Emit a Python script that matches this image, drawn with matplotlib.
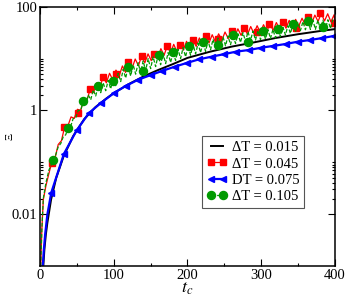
import numpy as np
import matplotlib
matplotlib.use("Agg")
import matplotlib.pyplot as plt
from matplotlib.lines import Line2D
from matplotlib.ticker import FixedLocator, FixedFormatter

plt.rcParams["font.family"] = ["Liberation Serif", "DejaVu Serif"]
plt.rcParams["mathtext.fontset"] = "stix"

# black: dT = 0.015 (smooth, no markers)
black_t = [4.5, 6, 8, 10, 15, 22, 32, 45, 60, 75, 90, 100, 120, 140, 160, 180,
           200, 230, 260, 290, 320, 350, 380, 400]
black_E = [0.001, 0.0021, 0.0041, 0.0068, 0.019, 0.05, 0.13, 0.32, 0.68, 1.15,
           1.7, 2.15, 3.2, 4.5, 6.0, 7.8, 10.3, 13.5, 17.0, 20.5, 25.0, 29.5,
           34.0, 37.0]

# blue: DT = 0.075 (line start + triangle markers)
blue_start_t = [3.8, 5, 7, 10]
blue_start_E = [0.001, 0.0019, 0.0041, 0.0099]
blue_t = [15.3, 32.4, 49.6, 66, 83, 101, 116, 133, 150, 166, 183, 200, 216, 233,
          250, 266, 283, 300, 316, 333, 350, 366, 383, 398]
blue_E = [0.026, 0.145, 0.41, 0.88, 1.41, 2.2, 2.95, 3.9, 4.8, 5.8, 7.0, 8.3,
          9.7, 10.9, 12.2, 13.6, 14.6, 16.2, 17.5, 19.1, 21.2, 22.8, 24.9, 27.2]

# red: dT = 0.045 (oscillating line: peaks and troughs, plus square markers)
red_start_t = [1, 2.5, 4.5, 8, 12]
red_start_E = [0.001, 0.005, 0.019, 0.035, 0.06]
red_peak_t = np.arange(16, 400, 8.7)
red_peak_E = [0.10, 0.22, 0.48, 0.75, 1.05, 1.7, 2.6, 3.4, 4.4, 5.2, 6.0, 7.2,
              8.5, 9.8, 11.2, 12.3, 13.5, 15.5, 17.5, 18.8, 20, 21.5, 23, 25,
              27.6, 28.8, 30, 32.5, 35, 37.5, 40, 41.5, 43, 45, 47, 49.5, 52,
              54.5, 57, 60, 63, 69, 75, 73, 70]
red_trough_E = [0.12, 0.26, 0.5, 0.7, 1.0, 1.6, 2.2, 2.8, 3.4, 3.9, 4.6, 5.4,
                6.4, 7.3, 8.3, 9.1, 10.2, 11.6, 12.8, 13.6, 14.6, 15.8, 17.2,
                18.8, 20, 21, 22.5, 24.3, 26.2, 28, 29.3, 30.4, 31.7, 33.3, 35,
                36.8, 38.5, 40.5, 42.5, 44.5, 47.5, 52, 53, 51]
red_end_t, red_end_E = 400, 50
red_mark_t = [15.8, 33, 51, 67.8, 85.8, 103, 120, 138, 155, 172.5, 190, 208,
              225, 242, 260, 277, 294, 311, 329, 347, 363, 380, 398]
red_mark_E = [0.096, 0.474, 0.88, 2.56, 4.36, 5.0, 8.5, 11.2, 12.5, 17.5, 18.3,
              22.8, 27.6, 23.5, 34.5, 39.4, 33, 46.4, 51.4, 38.4, 62.5, 74.6,
              49.2]

# green: dT = 0.105 (dashed spiky line plus circle markers)
green_start_t = [1, 2.5, 4.5, 8, 12]
green_start_E = [0.001, 0.005, 0.02, 0.04, 0.07]
green_high_t = np.arange(18, 400, 6.77)
green_high_E = [0.111, 0.2, 0.31, 0.47, 0.7, 1.0, 1.5, 2.0, 2.5, 2.97, 3.4, 3.8,
                4.2, 5.2, 6.2, 7.0, 7.6, 8.3, 9.0, 10.0, 10.8, 11.7, 12.4, 13.0,
                13.5, 15.0, 16.3, 17.6, 18.6, 19.7, 20.7, 22.0, 23.5, 25.0,
                26.2, 27.3, 28.5, 30.0, 31.5, 33.0, 34.0, 34.5, 35.0, 36.0,
                36.5, 37.5, 40.0, 43.0, 46.4, 49.0, 51.5, 54.0, 55.0, 55.0,
                55.0, 56.0, 57.0]
green_low_E = [0.14, 0.23, 0.34, 0.5, 0.72, 1.0, 1.3, 1.6, 1.9, 2.2, 2.4, 2.6,
               3.0, 3.6, 4.2, 4.6, 5.0, 5.3, 5.8, 6.4, 7.0, 7.6, 8.0, 8.4, 9.2,
               10.0, 10.8, 11.6, 12.3, 13.0, 13.8, 14.8, 15.8, 16.8, 17.6, 18.5,
               19.5, 20.5, 21.5, 22.3, 22.8, 23.2, 23.8, 24.3, 25.0, 26.5, 28.5,
               30.5, 32.5, 34.5, 36.0, 36.5, 36.5, 37.0, 37.5, 38.0]
green_mark_t = [18, 38.4, 58.7, 79, 99.3, 119.6, 140, 161, 180.7, 201.5, 221.3,
                241.6, 262, 282, 302.6, 322.8, 343, 363.6, 384]
green_mark_E = [0.111, 0.467, 1.5, 2.97, 3.75, 7.0, 5.85, 11.7, 13.3, 17.6,
                20.7, 18.3, 28.5, 21.2, 34.5, 37.2, 46.4, 53.7, 40]

labels = ["ΔT = 0.015", "ΔT = 0.045", "DT = 0.075", "ΔT = 0.105"]


def zigzag(start_t, start_E, high_t, high_E, low_E):
    t = list(start_t)
    e = list(start_E)
    for i in range(len(high_t)):
        t.append(high_t[i])
        e.append(high_E[i])
        if i < len(low_E):
            t.append((high_t[i] + high_t[i + 1]) / 2)
            e.append(low_E[i])
    return t, e


red_line_t, red_line_E = zigzag(red_start_t, red_start_E, red_peak_t,
                                red_peak_E, red_trough_E)
red_line_t.append(red_end_t)
red_line_E.append(red_end_E)
green_line_t, green_line_E = zigzag(green_start_t, green_start_E, green_high_t,
                                    green_high_E, green_low_E)

green = "#009a00"

fig = plt.figure(figsize=(3.46, 3.05), dpi=100)
ax = fig.add_axes([0.1156, 0.128, 0.8526, 0.85])

ax.plot(black_t, black_E, color="black", lw=1.4)
ax.plot(red_line_t, red_line_E, color="red", lw=0.9)
ax.plot(red_mark_t, red_mark_E, ls="none", marker="s", ms=5, color="red")
ax.plot(green_line_t, green_line_E, color=green, lw=0.9, dashes=(3, 1.5))
ax.plot(green_mark_t, green_mark_E, ls="none", marker="o", ms=5.8, color=green)
ax.plot(blue_start_t + blue_t, blue_start_E + blue_E, color="blue", lw=1.6,
        marker="<", ms=5, markevery=list(range(len(blue_start_t),
                                               len(blue_start_t) + len(blue_t))))

ax.set_yscale("log")
ax.set_xlim(0, 400)
ax.set_ylim(1e-3, 100)

ax.set_xticks([0, 100, 200, 300, 400])
ax.set_xticks([50, 150, 250, 350], minor=True)
ax.yaxis.set_major_locator(FixedLocator([0.01, 1, 100]))
ax.yaxis.set_major_formatter(FixedFormatter(["0.01", "1", "100"]))
ax.yaxis.set_minor_locator(FixedLocator(
    [k * 10.0 ** e for e in (-2, 0) for k in range(2, 11)]))
ax.yaxis.set_minor_formatter(FixedFormatter([]))
ax.tick_params(which="both", direction="in", top=True, right=True,
               labelsize=10.5, pad=2)
ax.tick_params(which="major", length=5, width=0.8)
ax.tick_params(which="minor", length=2.5, width=0.8)
for s in ax.spines.values():
    s.set_linewidth(1.1)

ax.set_xlabel(r"$t_c$", fontsize=13, labelpad=-1)
ax.set_ylabel("Ξ", fontsize=8)
ax.yaxis.set_label_coords(-0.088, 0.5)

handles = [
    Line2D([], [], color="black", lw=1.4),
    Line2D([], [], color="red", lw=0.9, marker="s", ms=5),
    Line2D([], [], color="blue", lw=1.6, marker="<", ms=5),
    Line2D([], [], color=green, lw=0.9, dashes=(3, 1.5), marker="o", ms=5.8),
]
leg = ax.legend(handles, labels, loc="upper left", bbox_to_anchor=(0.548, 0.501),
                numpoints=2, fontsize=10.5, handlelength=1.4, handletextpad=0.3,
                labelspacing=0.2, borderpad=0.35, borderaxespad=0, fancybox=False,
                framealpha=1, edgecolor="#555555")
leg.get_frame().set_linewidth(0.8)

fig.savefig("out.png", dpi=100)
